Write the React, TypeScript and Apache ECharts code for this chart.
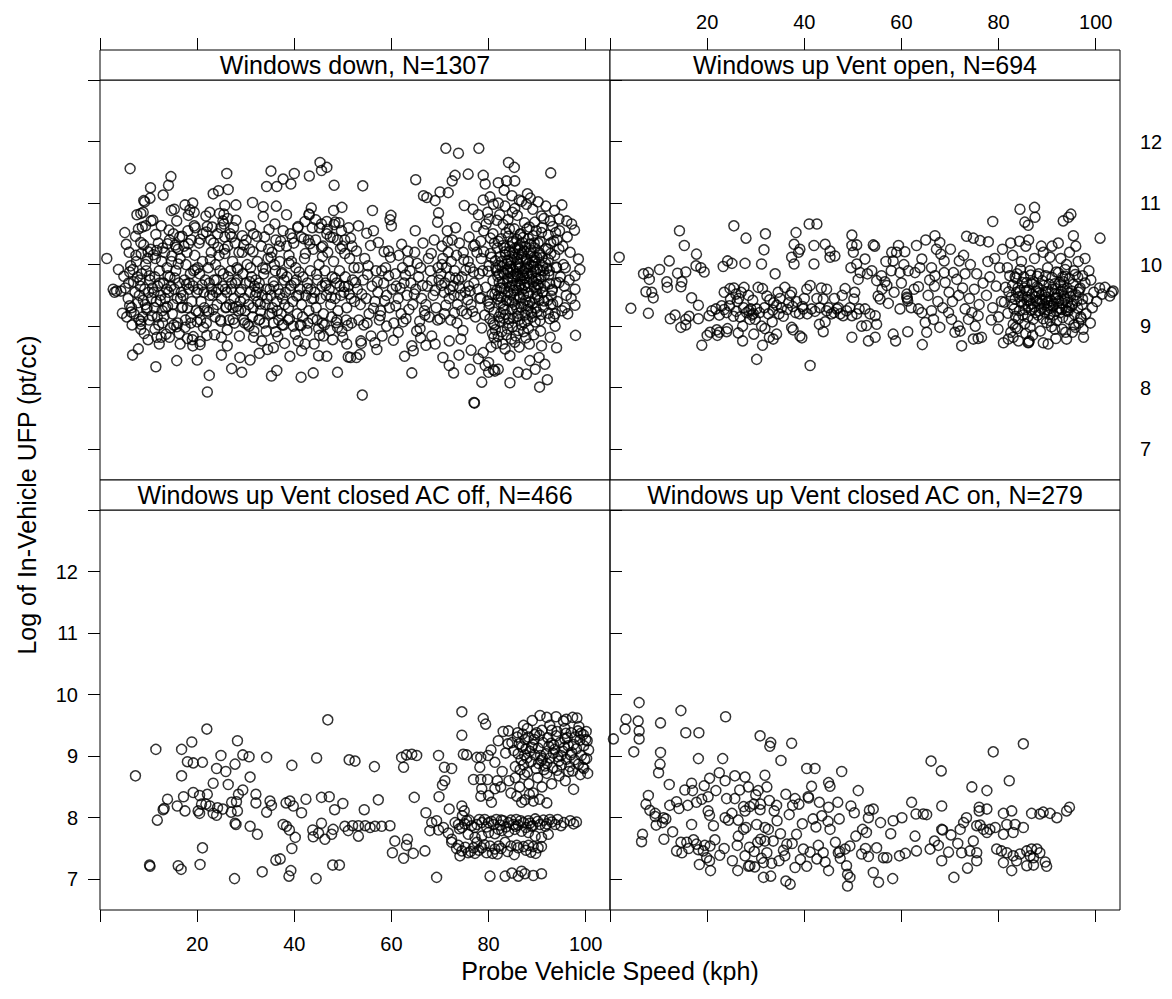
import { useEffect, useRef } from "react";
import * as echarts from "echarts";

// Axis scales shared by all four panels
const speedRange = [0, 105];
const ufpRange = [6.5, 13];
const speedTicks = [0, 20, 40, 60, 80, 100];
const speedLabels = [20, 40, 60, 80, 100];
const ufpTicks = [7, 8, 9, 10, 11, 12, 13];
const ufpLabels = [7, 8, 9, 10, 11, 12];

const panelTitles = [
  "Windows down, N=1307",
  "Windows up Vent open, N=694",
  "Windows up Vent closed AC off, N=466",
  "Windows up Vent closed AC on, N=279",
];

// [probe vehicle speed (kph), log in-vehicle UFP (pt/cc)]
const windowsDown: number[][] = [
  [1.4,10.1],[2.7,9.6],[3.4,9.57],[4.3,9.57],[3.0,9.55],[6.2,11.56],[14.6,11.43],[10.4,11.25],[14.1,11.29],[13.0,11.13],[9.0,11.04],[9.2,11.02],[10.3,11.08],[8.4,10.83],[8.9,10.85],[10.5,10.71],[14.7,10.88],[15.3,10.9],[17.5,10.97],[19.1,11.0],[18.2,10.8],[19.4,10.85],
  [26.1,11.48],[23.3,11.15],[24.4,11.2],[26.4,11.22],[22.6,10.85],[25.7,10.96],[25.5,10.82],[28.0,10.97],[25.3,10.71],[26.3,10.75],[31.4,11.01],[33.6,10.94],
  [35.2,11.52],[34.3,11.27],[36.4,11.27],[37.7,11.39],[39.3,11.31],[40.0,11.48],[43.1,11.44],[45.3,11.66],[45.6,11.53],[46.7,11.58],[48.2,11.29],[49.8,10.93],[43.0,10.82],[43.1,10.81],[45.6,10.66],[46.7,10.7],[48.4,10.69],
  [8.4,10.36],[8.4,9.03],[8.4,8.95],[6.7,8.53],[7.9,8.63],[11.5,8.34],[11.7,8.82],[12.2,8.71],[14.3,8.82],[15.8,8.44],[15.8,8.99],[16.5,8.71],[18.0,8.8],[19.2,8.83],[20.6,8.75],[19.1,8.68],[20.6,8.7],[20.0,8.45],[22.1,7.93],[22.5,8.2],[25.0,8.53],[26.2,8.68],[27.1,8.31],[29.2,8.25],[28.8,8.49],[30.9,8.45],[31.6,8.82],[32.8,8.56],[34.5,8.62],[35.3,8.19],[36.4,8.28],[35.7,8.65],[39.1,8.51],[41.4,8.17],[43.9,8.24],[40.8,8.76],[42.2,8.71],[41.5,8.6],[45.0,8.52],[46.7,8.51],[48.9,8.25],[48.9,8.98],[50.0,8.82],[50.8,8.71],[51.1,8.5],[51.6,8.49],[45.2,8.85],[46.0,8.84],[41.2,9.02],[37.5,9.02],[36.2,8.91],
  [5.2,9.62],[5.8,9.45],[6.1,9.88],[6.5,9.3],[6.9,9.72],[7.2,9.55],[7.5,10.05],[7.8,9.38],[5.5,9.15],[6.3,9.98],[7.0,9.2],[7.7,9.8],[6.0,10.2],[7.4,10.15],[5.9,9.7],
  [8.1,9.5],[8.3,9.65],[8.6,9.85],[8.9,9.42],[9.2,9.6],[9.4,10.0],[9.7,9.3],[10.0,9.55],[10.3,9.75],[10.6,9.45],[8.5,10.18],[9.0,10.32],[9.8,10.1],[10.4,10.25],[8.8,9.15],[10.1,9.1],[9.5,9.9],[10.8,9.62],[8.2,9.75],[9.3,9.35],
  [11.1,9.55],[11.3,9.8],[11.6,9.4],[11.9,9.65],[12.2,9.9],[12.5,9.5],[12.8,9.25],[13.1,9.7],[13.4,9.45],[13.7,9.6],[11.4,10.1],[12.0,10.35],[12.7,10.05],[13.3,10.2],[13.8,9.95],[11.8,9.15],[12.9,9.05],[13.5,9.3],[12.3,9.7],[11.2,9.3],
  [14.1,9.55],[14.4,9.8],[14.7,10.05],[15.0,9.35],[15.3,9.6],[15.6,9.9],[15.9,9.45],[16.2,9.7],[16.5,10.1],[16.8,9.3],[14.3,10.4],[15.1,10.5],[15.7,10.28],[16.4,10.45],[14.9,9.2],[16.0,9.05],[16.7,9.55],[14.6,9.65],[15.4,9.78],[16.1,10.25],
  [17.1,9.5],[17.4,9.75],[17.7,10.0],[18.0,9.3],[18.3,9.6],[18.6,9.85],[18.9,9.4],[19.2,9.65],[19.5,10.15],[19.8,9.25],[17.3,10.3],[18.1,10.55],[18.8,10.4],[19.6,10.6],[17.6,9.1],[18.7,9.05],[19.3,9.9],[17.9,10.2],[19.9,9.55],[18.4,9.7],
  [20.2,9.6],[20.5,9.85],[20.8,9.4],[21.1,10.05],[21.4,9.55],[21.7,9.75],[22.0,9.25],[22.3,9.95],[22.6,9.5],[22.9,10.2],[20.4,10.35],[21.2,10.5],[22.1,10.62],[22.8,10.4],[20.7,9.1],[21.9,9.05],[22.5,9.7],[21.5,9.3],[20.1,9.95],[23.0,9.6],
  [23.2,9.5],[23.5,9.75],[23.8,10.0],[24.1,9.35],[24.4,9.6],[24.7,9.9],[25.0,9.45],[25.3,9.65],[25.6,10.25],[25.9,9.3],[23.4,10.35],[24.2,10.5],[24.9,10.6],[25.7,10.45],[23.7,9.15],[24.8,9.1],[25.4,9.85],[24.5,10.15],[23.9,9.55],[25.8,9.6],
  [26.1,9.55],[26.4,9.8],[26.7,9.35],[27.0,9.6],[27.3,10.05],[27.6,9.45],[27.9,9.7],[28.2,9.95],[28.5,9.25],[28.8,9.55],[26.3,10.3],[27.1,10.45],[27.8,10.35],[28.6,10.2],[26.6,9.1],[27.7,9.05],[28.3,9.75],[26.9,9.9],[28.9,9.4],[27.4,9.3],
  [29.1,9.6],[29.4,9.85],[29.7,9.45],[30.0,9.7],[30.3,10.0],[30.6,9.35],[30.9,9.55],[31.2,9.8],[31.5,9.3],[31.8,9.65],[29.3,10.2],[30.1,10.4],[30.8,10.25],[31.6,10.5],[29.6,9.1],[30.7,9.0],[31.4,9.15],[29.9,9.25],[31.0,9.95],[32.0,9.5],
  [32.2,9.55],[32.5,9.4],[32.8,9.7],[33.1,9.25],[33.4,9.5],[33.7,9.85],[34.0,9.35],[34.3,9.6],[34.6,10.1],[34.9,9.2],[32.4,10.05],[33.2,10.3],[33.9,10.45],[34.7,10.25],[32.7,9.1],[33.8,9.05],[34.4,9.45],[33.5,9.95],[32.1,9.75],[35.0,9.6],
  [35.2,9.5],[35.5,9.3],[35.8,9.65],[36.1,9.9],[36.4,9.4],[36.7,9.6],[37.0,10.05],[37.3,9.2],[37.6,9.45],[37.9,9.75],[35.4,10.2],[36.2,10.4],[36.9,10.3],[37.7,10.55],[35.7,9.05],[36.8,9.1],[37.4,9.85],[35.9,10.0],[38.0,9.35],[36.5,9.25],
  [38.2,9.55],[38.5,9.8],[38.8,9.3],[39.1,9.6],[39.4,10.05],[39.7,9.4],[40.0,9.7],[40.3,9.95],[40.6,9.2],[40.9,9.5],[38.4,10.3],[39.2,10.5],[39.9,10.35],[40.7,10.6],[38.7,9.1],[39.8,9.0],[40.4,9.75],[38.9,10.15],
  [41.2,9.6],[41.5,9.35],[41.8,9.8],[42.1,10.1],[42.4,9.5],[42.7,9.7],[43.0,9.25],[43.3,9.9],[43.6,9.45],[43.9,10.25],[41.4,10.45],[42.2,10.7],[42.9,10.4],[43.7,10.6],[41.7,9.15],[42.8,9.05],[43.4,9.6],
  [44.2,9.55],[44.5,9.3],[44.8,9.75],[45.1,10.0],[45.4,9.45],[45.7,9.65],[46.0,9.2],[46.3,9.9],[46.6,9.5],[46.9,10.2],[44.4,10.4],[45.2,10.6],[45.9,10.3],[46.7,10.5],[44.7,9.1],[45.8,9.05],[46.4,9.7],
  [47.2,9.6],[47.5,9.35],[47.8,9.8],[48.1,10.05],[48.4,9.45],[48.7,9.7],[49.0,9.25],[49.3,9.9],[49.6,9.5],[49.9,10.3],[47.4,10.45],[48.2,10.65],[48.9,10.4],[49.7,10.55],[47.7,9.15],[48.8,9.1],[49.4,9.65],
  [50.2,9.55],[50.5,9.8],[50.8,9.3],[51.1,9.65],[51.4,10.1],[51.7,9.45],[52.0,9.75],[52.3,9.95],[50.4,10.4],[51.2,10.6],[51.9,10.3],[50.7,9.1],[51.8,9.05],[52.4,9.4],
  [3.8,9.92],[4.6,9.21],[5.4,10.33],[6.6,9.02],[7.3,10.46],[8.0,9.11],[8.7,10.61],[9.1,8.88],[9.9,10.21],[10.7,9.17],[11.5,10.49],[12.1,9.02],[12.6,10.63],[13.2,9.16],[13.9,10.34],[14.5,8.97],[5.1,10.52],[6.4,9.23],[7.9,10.58],[9.6,9.27],[10.9,10.72],[12.4,9.42],[14.2,10.56],[4.9,9.81],[6.8,9.92],[8.4,9.08],[10.2,9.82],[11.7,10.23],[13.6,8.87],[14.8,10.14],[7.6,10.81],[9.4,10.63],[11.0,10.16],[12.9,10.27],[14.0,9.82],[6.1,9.33],[9.9,8.78],[12.6,8.82],[13.9,9.32],[11.3,8.95],
  [15.2,9.02],[15.8,10.71],[16.3,8.88],[16.9,10.46],[17.5,8.98],[18.2,10.34],[18.7,9.14],[19.4,10.63],[20.0,9.07],[20.6,10.41],[21.3,8.98],[21.8,10.79],[22.4,9.23],[23.1,10.61],[23.6,8.86],[24.3,10.28],[24.9,9.08],[25.5,10.66],[26.2,8.94],[26.8,10.5],[27.4,9.11],[28.0,10.72],[28.7,8.84],[29.3,10.47],[29.8,9.05],[15.5,10.32],[17.0,9.31],[18.5,10.89],[20.3,9.22],[21.9,10.53],[23.3,9.27],[24.6,10.83],[26.0,9.31],[27.5,10.6],[29.0,9.27],[16.1,10.01],[17.8,9.68],[19.6,9.92],[21.0,9.67],[22.7,10.08],[24.0,9.75],[25.7,10.18],[27.1,9.7],[28.4,9.92],[29.6,10.32],[16.6,9.45],[19.0,8.78],[22.0,8.85],[25.0,8.82],[28.1,9.32],
  [30.4,9.03],[31.0,10.63],[31.7,8.92],[32.3,10.46],[32.9,9.11],[33.6,10.78],[34.2,8.92],[34.8,10.57],[35.4,9.21],[36.0,10.66],[36.6,8.83],[37.2,10.38],[37.8,9.02],[38.4,10.81],[39.0,9.12],[39.6,10.43],[40.2,8.87],[40.8,10.62],[41.4,9.01],[42.0,10.42],[42.6,8.93],[43.2,10.34],[43.8,9.12],[44.4,10.73],[45.0,8.96],[45.6,10.28],[46.2,9.02],[46.8,10.57],[47.4,8.93],[48.0,10.44],[48.6,9.06],[49.2,10.68],[49.8,8.92],[50.4,10.18],[51.0,9.01],[51.6,10.43],[30.8,9.72],[32.6,9.62],[34.1,9.93],[35.7,9.72],[37.5,9.87],[39.3,9.66],[41.0,9.88],[42.7,9.61],[44.6,9.84],[46.5,9.66],[48.4,9.78],[50.3,9.64],[31.5,10.21],[33.0,9.36],[35.2,10.12],[37.0,9.52],[38.9,10.02],[40.5,9.49],[42.3,10.18],[44.0,9.45],[45.8,10.13],[47.6,9.47],[49.5,10.26],[51.3,9.52],[33.3,8.76],[38.0,8.72],[44.1,8.71],[47.9,8.78],[36.3,10.95],[43.5,10.92],[48.1,10.88],
  [71.2,11.89],[73.8,11.81],[78.0,11.89],[84.1,11.66],[85.3,11.58],[92.8,11.49],[65.0,11.38],[73.1,11.45],[72.5,11.36],[75.8,11.47],[78.9,11.45],[79.3,11.31],[82.0,11.33],[83.7,11.36],[85.4,11.36],[54.1,11.28],[66.6,11.12],[67.3,11.09],[69.0,11.04],[70.0,11.18],[71.7,11.17],[56.1,10.88],[59.9,10.8],[59.7,10.73],[60.0,10.63],[53.2,10.63],[54.9,10.51],[56.3,10.55],[64.9,10.55],[69.7,10.84],[69.5,10.69],[95.1,10.97],[94.5,10.74],[96.1,10.71],[97.1,10.66],[97.7,10.56],[75.0,10.96],[57.3,10.36],[58.5,10.21],[59.4,10.22],[62.1,10.33],[52.8,10.22],[53.2,9.95],[55.2,9.98],[56.8,9.9],[58.0,9.9],
  [98.5,10.09],[98.8,9.92],[97.8,9.82],[97.8,9.6],[97.8,9.34],[95.7,9.3],[97.9,8.85],[93.7,9.2],[93.7,9.0],[54.0,7.88],[64.2,8.24],[71.9,8.36],[72.8,8.24],[73.9,8.53],[76.2,8.3],[78.6,8.09],[84.4,8.08],[90.5,8.01],[92.1,8.13],[77.0,7.76],[77.1,7.75],[80.0,8.25],[81.3,8.27],[82.0,8.3],[89.6,8.3],[91.6,8.38],[86.1,8.25],[87.8,8.22],[77.9,8.47],[80.0,8.41],[88.5,8.44],[90.4,8.49],[92.7,8.82],[94.0,8.65],[90.9,8.68],
  [61.4,8.9],[65.2,8.92],[65.9,8.96],[68.3,8.84],[69.0,8.71],[67.1,8.69],[64.2,8.68],[64.5,8.6],[71.9,8.76],[74.3,8.79],[76.4,8.61],[56.6,8.73],[58.1,8.84],[59.0,9.0],[55.8,8.84],[53.7,8.76],[53.5,8.54],[52.8,8.49],[78.9,8.57],[79.3,8.36],[81.0,8.29],
  [53.8,8.72],[57.0,8.62],[62.7,8.51],[66.0,8.81],[70.6,8.49],[74.7,8.93],[60.4,8.77],
  [53.0,9.6],[53.6,9.35],[54.2,9.75],[54.8,9.45],[55.4,9.2],[56.0,9.65],[56.6,9.4],[57.2,9.55],[57.8,9.25],[58.4,9.7],[59.0,9.5],[59.6,9.3],[60.2,9.6],[60.8,9.85],[61.4,9.45],[62.0,9.2],[62.6,9.7],[63.2,9.5],[63.8,9.9],[64.4,9.35],[65.0,9.6],[65.6,9.8],[66.2,9.45],[66.8,9.25],[67.4,9.65],[68.0,9.9],[68.6,9.5],[69.2,9.3],[69.8,9.75],[70.4,10.0],[53.3,9.1],[55.0,9.05],[57.5,9.1],[60.5,9.05],[63.0,9.12],[65.8,9.08],[67.8,9.15],[69.5,9.1],[54.5,10.1],[61.5,10.15],[63.5,10.05],[64.8,10.2],[66.5,10.35],[67.6,10.1],[68.8,10.4],[58.8,9.95],[61.0,9.65],[62.3,9.95],[64.0,9.7],[66.0,9.95],
  [52.6,9.71],[53.9,9.52],[55.1,9.84],[56.3,9.29],[57.1,9.72],[58.6,9.41],[59.4,9.82],[60.9,9.33],[61.8,9.62],[62.9,9.83],[63.6,9.27],[64.7,9.52],[65.3,10.02],[66.4,9.66],[67.1,9.35],[68.3,9.74],[69.0,9.58],[69.6,9.95],[70.3,9.66],[71.2,9.34],[72.0,9.59],[73.2,9.78],[74.1,9.62],[75.3,9.91],[76.2,9.57],[76.9,9.88],[75.7,9.43],[74.9,10.08],[71.6,10.38],[68.2,10.18],[63.3,10.22],[59.8,10.12],[55.7,10.31],[57.7,9.17],[62.4,9.07],[66.9,9.18],[70.0,9.12],[73.0,9.22],[76.7,9.24],[54.3,9.02],
  [70.2,9.85],[70.6,10.1],[71.0,9.7],[71.3,9.95],[71.7,10.2],[72.0,9.8],[72.3,10.05],[72.7,9.65],[73.0,9.9],[73.4,10.15],[73.8,9.75],[70.8,9.55],[71.9,9.45],[72.9,9.5],[73.6,9.35],[70.4,10.3],[72.5,10.4],[71.5,10.55],[73.2,10.6],[74.0,10.35],[70.9,9.2],[72.2,9.1],[73.5,9.05],[74.5,9.25],
  [81.3,9.52],[84.7,10.08],[87.9,9.71],[90.2,10.35],[83.1,9.33],[86.4,9.94],[89.6,9.46],[92.4,9.83],[80.6,10.12],[85.8,10.41],[88.1,9.27],[91.7,10.02],[82.9,9.88],[86.9,9.59],[90.8,9.19],[79.4,9.63],[84.2,9.41],[87.3,10.22],[93.1,9.58],[81.8,10.27],
  [85.1,9.13],[88.7,9.98],[83.6,10.52],[90.1,9.68],[86.2,10.17],[80.2,9.36],[92.8,10.18],[84.9,9.79],[89.2,10.47],[82.2,9.71],[87.6,9.42],[91.3,9.31],[85.6,9.66],[79.9,9.89],[88.4,10.61],[83.8,10.01],[90.6,9.91],[86.7,9.31],[81.5,9.95],[93.9,9.96],
  [84.4,10.29],[87.1,9.83],[89.9,10.12],[82.6,9.47],[85.3,10.58],[91.1,9.55],[88.9,9.21],[80.9,9.74],[86.5,10.49],[83.3,9.61],[92.2,9.42],[84.6,9.52],[87.8,10.06],[90.4,9.42],[82.0,10.38],[85.9,9.84],[89.4,9.64],[81.1,9.23],[94.5,9.71],[88.2,9.54],
  [83.5,9.19],[86.0,10.04],[91.8,10.26],[84.0,9.89],[87.4,9.67],[89.7,9.88],[80.4,10.43],[85.4,9.35],[92.6,9.69],[82.4,10.13],[88.6,10.33],[86.3,9.48],[90.9,10.52],[83.9,9.72],[81.7,9.58],[87.0,10.36],[89.1,9.37],[85.0,10.19],[93.4,10.38],[84.8,9.27],
  [79.0,10.21],[82.8,9.97],[86.6,9.77],[90.3,9.77],[88.0,9.09],[84.3,9.64],[91.5,9.83],[80.7,9.52],[87.7,9.93],[83.0,10.31],[85.7,9.96],[89.5,10.27],[82.1,9.15],[92.0,9.94],[86.1,9.21],[90.0,9.23],[84.1,10.46],[88.3,9.81],[81.4,10.06],[87.2,9.51],
  [85.5,10.27],[83.2,9.85],[89.8,9.59],[91.0,10.11],[86.8,10.12],[82.5,9.38],[88.8,10.14],[80.1,9.98],[84.5,9.97],[90.7,9.61],[87.5,9.18],[85.2,9.58],[92.9,9.49],[83.7,9.42],[89.3,9.97],[81.9,9.81],[86.4,10.31],[88.5,9.39],[84.9,10.36],[91.6,9.65],
  [80.4,10.18],[83.9,10.07],[86.3,9.66],[89.0,10.04],[91.3,9.9],[82.7,9.62],[85.0,9.92],[87.6,10.29],[90.5,10.19],[81.6,9.91],[84.0,9.55],[86.9,9.87],[88.9,9.76],[92.3,10.08],[83.4,10.21],[85.9,10.09],[88.2,10.02],[90.0,9.52],[82.3,9.99],[87.1,10.44],
  [82.2,9.84],[83.5,10.16],[84.8,9.66],[86.1,10.01],[87.4,9.78],[88.7,10.23],[90.0,9.93],[83.0,9.7],[84.3,10.21],[85.6,9.85],[86.9,10.18],[88.2,9.64],[89.5,10.06],[90.8,9.8],[82.7,10.05],[84.0,9.78],[85.3,10.12],[86.6,9.68],[87.9,9.96],[89.2,9.72],
  [90.5,10.16],[83.8,9.92],[85.1,9.74],[86.4,10.24],[87.7,10.09],[89.0,9.86],[90.3,9.67],[82.4,9.62],[84.6,10.03],[85.9,9.58],[87.2,9.89],[88.5,10.19],[89.8,9.78],[91.1,9.98],[83.3,10.27],[86.0,9.81],[88.0,9.86],[84.5,9.86],[87.5,9.62],[89.4,10.12],
  [78.4,9.46],[80.1,9.31],[81.9,9.44],[83.2,9.27],[84.8,9.39],[86.5,9.46],[88.1,9.33],[89.7,9.29],[91.4,9.41],[93.2,9.36],[79.2,9.18],[80.9,9.05],[82.5,9.21],[84.2,9.12],[85.8,9.29],[87.4,9.06],[89.0,9.15],[90.6,9.09],[92.3,9.21],[78.6,8.97],[81.4,8.94],[83.1,9.13],[84.9,8.99],[86.4,9.11],[88.2,8.96],[79.8,9.41],[82.0,9.49],[85.2,9.47],[87.0,9.37],[90.1,9.48],[92.6,9.12],[81.1,8.82],[83.7,8.86],[85.4,8.74],[87.7,8.81],[89.3,8.86],[80.5,8.66],[82.9,8.71],[86.1,8.93],[88.7,9.24],
  [80.3,9.12],[82.7,8.91],[84.1,9.05],[85.6,8.84],[81.6,8.72],[83.4,8.63],[86.8,9.02],[88.4,8.71],[80.8,8.88],[84.7,8.79],[82.3,9.08],[87.2,8.91],[85.9,9.16],[83.9,8.96],[81.2,9.02],[86.3,8.66],[89.6,9.07],[84.4,8.52],[82.0,8.83],[90.7,8.92],
  [79.5,10.66],[82.3,10.81],[85.4,10.91],[87.9,10.58],[90.9,10.79],[84.0,10.73],[81.0,10.98],[86.8,11.03],[89.5,10.69],[92.7,10.71],[83.2,11.21],[88.6,11.08],[80.1,10.74],[93.8,10.52],[77.9,10.81],
  [76.0,10.45],[77.5,10.62],[78.4,10.38],[79.8,10.85],[80.9,10.5],[81.7,10.72],[82.6,10.42],[83.4,10.95],[84.3,10.58],[85.0,10.38],[85.9,10.8],[86.6,10.5],[87.4,10.68],[88.2,10.42],[89.1,10.9],[89.8,10.55],[90.6,10.38],[91.4,10.75],[92.3,10.48],[93.2,10.62],[94.1,10.4],[95.3,10.3],[96.2,10.45],[76.8,10.9],[78.9,11.05],[80.3,11.1],[82.0,11.0],[84.8,11.12],[86.3,11.05],[88.0,11.15],[90.2,11.02],[91.8,10.95],[93.6,10.88],[77.2,10.32],[79.0,10.55],[81.2,10.35],[83.0,10.65],[84.9,10.85],[86.0,10.28],[87.8,10.98],[89.4,10.35],[91.0,10.6],[92.8,10.35],[94.6,10.55],
  [74.5,9.8],[75.2,9.55],[75.8,10.05],[76.4,9.35],[77.0,9.7],[77.6,10.2],[78.2,9.45],[78.8,9.9],[74.8,10.2],[75.5,9.2],[76.2,9.95],[76.9,10.3],[77.8,9.6],[78.5,10.1],[75.9,9.65],[77.3,9.15],[78.1,9.85],[74.2,9.5],
  [92.5,9.9],[93.1,9.6],[93.6,10.15],[94.2,9.4],[94.8,9.8],[95.4,10.0],[96.0,9.5],[96.6,9.75],[92.8,9.35],[93.9,9.7],[94.5,10.25],[95.1,9.25],[95.8,9.95],[96.8,10.2],[92.2,10.25],[93.4,9.15],[94.0,9.95],[95.6,9.65],[97.0,9.45],[96.3,9.2],
];

const ventOpen: number[][] = [
  [1.9,10.12],[4.3,9.29],[7.9,9.21],[6.9,9.85],[7.9,9.87],[8.1,9.76],[7.4,9.56],[8.6,9.55],[8.9,9.46],[10.2,9.92],[12.2,10.06],[11.7,9.72],[11.8,9.63],[14.8,9.72],[14.6,9.64],[13.9,9.86],[15.6,9.88],[14.3,10.55],[15.3,10.31],[17.8,10.17],[17.7,9.98],[18.7,9.95],[19.4,9.88],[16.8,9.46],[18.2,9.34],[12.4,9.12],[13.4,9.18],[14.6,8.98],[15.6,9.02],[16.3,9.16],[15.6,9.11],[18.2,9.12],[18.9,8.69],[20.0,8.85],[20.6,8.9],[22.1,8.85],[22.5,8.9],[24.0,8.91],[24.2,8.96],[22.0,8.94],[20.4,9.17],[21.8,9.28],[23.0,9.33],[24.0,9.22],[25.4,9.16],[24.6,9.33],[24.8,9.44],[24.7,9.61],[23.3,9.97],[24.2,10.06],[25.1,10.02],[25.5,10.63],[28.0,10.43],[27.8,10.02],[27.6,9.63],[26.4,8.89],[27.3,8.76],[27.3,9.0],
  [28.1,9.22],[29.0,9.28],[29.5,9.2],[28.8,9.11],[30.2,9.28],[29.9,9.11],[29.2,9.18],[28.6,9.25],[29.6,8.87],[30.2,8.46],[31.4,8.69],[31.2,10.01],[31.7,10.24],[32.0,10.5],[31.2,9.0],[31.9,8.96],[33.4,9.07],[32.8,8.82],[34.3,8.87],[33.6,8.79],[30.5,9.63],[31.4,9.61],[32.3,9.49],[32.9,9.43],[34.0,9.85],[34.3,9.34],[35.3,9.3],[35.7,9.16],[37.1,9.5],[36.0,9.63],[37.4,9.55],[38.4,9.4],[37.6,9.32],[39.0,9.2],[37.4,8.98],[37.7,8.94],[39.1,8.84],[39.5,8.81],[37.4,10.12],[37.9,10.33],[38.3,10.52],[39.1,10.25],[37.9,10.01],[38.8,10.2],[41.0,10.66],[42.6,10.66],[42.0,10.31],[42.0,10.01],[41.2,8.36],[41.2,9.66],[40.5,9.6],[39.8,9.28],[41.5,9.28],[43.9,9.44],[44.6,9.6],[44.6,9.25],[44.3,9.07],[43.9,8.91],[43.1,9.03],[45.6,9.2],[46.7,9.28],[47.4,9.2],[48.0,9.17],[44.3,10.33],[45.3,10.22],[46.3,10.14],[45.3,10.12],[48.4,9.61],[49.8,10.48],[50.8,10.32],[49.8,10.31],[50.1,10.2],[49.6,9.95],[50.8,10.01],[51.5,9.87],[51.1,9.76],[49.8,8.82],[49.8,9.17],[50.8,9.2],[51.8,9.0],[50.2,9.44],[50.4,9.55],
  [21.0,9.25],[22.5,9.18],[23.5,9.27],[26.0,9.24],[26.8,9.15],[27.5,9.3],[30.8,9.22],[31.8,9.3],[32.6,9.2],[33.5,9.26],[34.8,9.2],[36.5,9.27],[38.2,9.22],[39.6,9.32],[40.6,9.2],[42.2,9.24],[43.2,9.3],[45.0,9.3],[46.1,9.22],[47.0,9.3],[48.7,9.25],[49.4,9.3],[51.3,9.28],[36.8,9.38],[35.0,9.45],[33.7,9.38],[26.5,9.45],[25.9,9.52],[34.6,9.55],[42.6,9.45],[43.5,9.62],[46.2,9.45],[47.8,9.5],[40.0,9.45],[23.5,9.55],[25.5,9.62],[26.2,9.4],[27.0,9.55],[28.5,9.5],[29.4,9.42],
  [54.2,10.32],[54.5,10.3],[52.5,10.09],[53.0,9.85],[53.9,9.9],[54.9,9.74],[55.9,9.82],[56.6,9.72],[57.0,9.66],[58.0,10.2],[59.0,10.2],[59.4,10.31],[60.7,10.21],[58.3,10.06],[57.9,9.9],[59.7,9.87],[61.4,9.9],[63.1,10.31],[64.2,10.09],[65.0,10.4],[66.9,10.47],[67.9,10.36],[68.1,10.17],[68.8,10.06],[66.2,9.95],[63.5,9.64],[62.8,9.87],[55.2,9.49],[55.6,9.44],[57.3,9.37],[59.7,9.28],[61.1,9.47],[61.3,9.41],[61.1,9.52],[61.2,9.45],[52.5,9.28],[53.5,9.2],[54.6,9.17],[54.9,9.03],[52.8,9.01],[53.2,8.76],[54.6,8.82],[58.3,8.87],[58.8,8.76],[61.3,8.91],[63.5,9.28],[64.2,9.22],[66.2,9.25],[64.9,9.06],[66.6,9.11],[67.9,8.98],[65.2,8.9],[64.3,8.7],[66.9,9.82],[68.8,9.87],[70.7,9.87],[69.0,9.71],[71.4,9.76],[73.1,9.85],[71.9,10.06],[73.4,10.46],[74.8,10.43],[76.2,10.39],[77.9,10.37],[78.8,10.7],[84.4,10.9],[87.4,10.93],[85.4,10.69],[86.1,10.64],[87.5,10.77],[93.3,10.71],[94.4,10.77],[94.9,10.82],[95.4,10.47],[100.9,10.43],[101.9,9.63],[103.3,9.55],[102.9,9.49],[103.6,9.57],
  [69.7,9.22],[70.3,9.11],[71.7,9.0],[72.1,8.92],[71.0,8.9],[72.4,8.68],[74.8,8.79],[75.8,8.8],[76.5,8.82],[73.1,9.28],[74.5,9.22],[73.8,9.11],[75.2,9.0],[75.8,9.17],[81.0,8.73],[82.0,8.79],[83.0,8.82],[84.1,8.76],[86.1,8.73],[86.3,8.76],[86.2,8.74],[89.2,8.73],[90.2,8.71],[91.8,8.8],[94.0,8.79],[95.2,8.9],[97.5,8.82],
  [56.0,9.6],[58.5,9.55],[60.0,9.7],[62.0,9.3],[62.6,9.6],[65.5,9.5],[66.8,9.65],[67.5,9.4],[68.5,9.3],[69.8,9.55],[70.5,9.4],[71.8,9.5],[72.6,9.62],[74.0,9.45],[75.0,9.6],[76.0,9.35],[76.8,9.7],[75.5,9.85],[74.2,10.0],[72.8,10.15],[70.1,10.25],[67.2,10.25],[60.5,10.0],[56.8,10.05],[63.8,9.95],[65.8,9.75],
  [81.4,9.63],[83.2,9.28],[84.9,9.71],[86.3,9.42],[88.1,9.18],[89.7,9.56],[91.2,9.33],[92.8,9.67],[94.3,9.24],[95.9,9.51],[82.6,9.47],[84.1,9.12],[85.7,9.58],[87.4,9.31],[89.0,9.74],[90.6,9.09],[92.1,9.45],[93.7,9.81],[95.2,9.36],[96.8,9.62],
  [81.9,9.21],[83.7,9.55],[85.2,9.36],[86.9,9.69],[88.5,9.43],[90.1,9.27],[91.7,9.61],[93.2,9.14],[94.8,9.48],[82.3,9.82],[84.5,9.92],[86.0,9.15],[87.8,9.57],[89.4,9.35],[91.0,9.79],[92.5,9.29],[94.1,9.62],[95.6,9.19],[97.3,9.44],[83.0,9.03],
  [84.7,9.39],[86.6,9.83],[88.2,9.62],[89.9,9.06],[91.5,9.52],[93.0,9.38],[94.6,9.77],[96.3,9.29],[81.2,9.39],[82.9,9.66],[85.9,9.47],[87.1,9.11],[88.8,9.29],[90.4,9.68],[92.3,9.87],[93.9,9.31],[95.4,9.68],[97.0,9.12],[83.6,9.78],[85.4,9.04],
  [86.8,9.26],[88.0,9.81],[89.6,9.44],[91.3,9.18],[92.9,9.56],[94.5,9.11],[96.1,9.41],[82.1,9.56],[84.3,9.25],[85.8,9.71],[87.5,9.48],[89.2,9.12],[90.8,9.41],[92.6,9.71],[94.2,9.39],[95.8,9.84],[83.4,9.44],[86.2,9.58],[88.4,9.37],[90.2,9.56],
  [91.9,9.24],[93.5,9.49],[95.0,9.57],[84.0,9.62],[87.2,9.72],[89.5,9.23],[92.0,9.09],[93.4,9.72],[96.5,9.55],[85.0,9.18],[88.9,9.52],[91.6,9.69],[94.0,9.25],[83.9,8.96],[86.5,8.98],[88.6,8.92],[90.9,8.99],[93.1,8.95],[95.5,9.02],[85.6,8.88],
  [82.8,9.35],[85.3,9.62],[87.9,9.41],[90.5,9.19],[93.3,9.6],[86.1,9.33],[89.3,9.66],[91.8,9.46],[94.4,9.54],[84.2,9.48],[87.6,9.22],[90.0,9.38],[92.7,9.22],[95.1,9.33],[83.5,9.16],
  [84.4,9.58],[86.7,9.36],[88.3,9.54],[90.7,9.29],[92.2,9.52],[85.5,9.27],[87.9,9.64],[89.8,9.47],[91.4,9.36],[93.6,9.44],[84.9,9.49],[86.9,9.52],[89.0,9.42],[91.0,9.6],[93.0,9.27],[85.8,9.43],[88.4,9.25],[90.3,9.33],[92.4,9.41],[94.6,9.3],
  [77.5,9.5],[78.2,9.8],[78.8,9.3],[79.5,9.65],[80.2,9.95],[80.6,9.4],[79.2,10.1],[78.5,9.1],[80.0,9.15],[77.8,10.05],[79.9,8.95],[80.8,10.25],
  [81.8,9.95],[82.9,10.15],[83.8,9.85],[84.7,10.05],[85.6,10.3],[86.5,9.9],[87.4,10.1],[88.3,9.85],[89.2,10.2],[90.1,9.95],[91.0,10.3],[91.9,9.88],[92.8,10.1],[93.7,9.92],[94.6,10.2],[95.5,9.9],[96.4,10.05],[97.3,9.82],[82.5,10.35],[84.3,10.38],[86.2,10.4],[88.8,10.3],[90.6,10.12],[92.3,10.35],[94.0,10.0],[95.9,10.3],[97.8,10.1],[98.6,9.9],[83.4,9.8],[85.2,9.8],[89.7,9.82],[93.2,9.8],
  [96.6,9.6],[97.2,9.35],[97.8,9.7],[98.4,9.45],[99.0,9.75],[99.6,9.55],[100.2,9.4],[100.8,9.62],[96.9,9.15],[98.0,9.2],[99.3,9.3],[101.3,9.52],[96.3,9.8],[98.9,9.05],[97.4,8.95],
  [82.5,8.9],[83.5,8.98],[87.0,8.85],[91.6,8.95],[93.8,8.9],[95.8,8.98],[96.5,9.05],
];

const acOff: number[][] = [
  [7.3,8.68],[11.5,9.11],[16.8,9.11],[18.9,9.23],[22.0,9.44],[18.0,8.91],[19.2,8.89],[21.1,8.9],[16.8,8.68],[24.0,8.8],[25.9,8.75],[27.8,8.87],[24.9,9.01],[28.3,9.25],[29.4,9.02],[30.7,8.99],[34.3,8.98],[39.5,8.85],[44.6,8.97],[51.3,8.94],[46.9,9.59],[23.3,8.56],[26.4,8.54],[30.9,8.66],[28.5,8.38],[29.4,8.45],[32.1,8.38],
  [13.9,8.3],[13.2,8.15],[13.0,8.13],[11.8,7.96],[15.9,8.19],[17.2,8.34],[17.5,8.11],[19.2,8.41],[20.5,8.36],[20.9,8.22],[22.1,8.38],[20.2,8.11],[20.5,8.07],[21.8,8.22],[22.6,8.19],[23.3,8.07],[24.0,8.04],[24.2,8.16],[25.3,8.14],[27.0,8.09],[27.1,8.25],[28.3,8.11],[28.1,8.26],[27.8,7.91],[30.9,7.86],[32.4,7.73],[32.1,8.24],[34.3,8.09],[35.0,8.27],[35.3,8.2],[38.3,8.24],[39.1,8.27],[39.8,8.19],[41.5,8.08],[42.4,8.3],[45.6,8.33],[47.2,8.34],[50.0,8.23],[48.3,8.13],
  [37.7,7.89],[38.4,7.86],[39.0,7.8],[40.2,7.68],[39.5,7.5],[43.8,7.8],[43.9,7.69],[45.6,7.91],[45.0,7.75],[46.3,7.65],[47.7,7.73],[48.0,7.81],[50.4,7.86],[51.1,7.79],[52.0,7.87],[28.0,7.89],[21.1,7.51],[10.2,7.23],[10.3,7.21],[16.1,7.22],[16.7,7.16],[20.6,7.24],[27.7,7.01],[33.4,7.12],[36.2,7.31],[37.1,7.33],[39.3,7.14],[38.9,7.05],[44.5,7.01],[47.9,7.23],[49.3,7.23],
  [74.5,9.72],[74.5,9.34],[78.9,9.61],[79.4,9.52],[84.1,9.41],[87.2,9.5],[90.6,9.66],[92.0,9.63],[93.9,9.64],[95.4,9.57],[97.3,9.63],[62.1,8.98],[63.1,9.02],[64.2,9.03],[65.2,9.01],[62.5,8.82],[69.7,9.01],[70.9,8.82],[72.4,8.8],[56.5,8.83],[74.8,9.03],[75.5,9.02],[77.6,8.98],[78.4,8.98],[79.9,9.01],[78.2,8.82],[76.9,8.62],[78.4,8.62],[79.8,8.62],[78.6,8.47],[80.0,8.36],[78.4,8.35],[80.6,8.25],[81.3,8.47],[71.0,8.6],[70.5,8.53],[69.8,8.34],[71.9,8.14],[64.7,8.33],[57.3,8.29],[54.4,8.13],[67.1,8.08],[52.5,8.92],
  [53.2,7.87],[54.6,7.87],[55.6,7.84],[56.6,7.86],[58.0,7.86],[59.7,7.87],[53.2,7.7],[60.7,7.62],[63.3,7.65],[63.1,7.55],[60.2,7.43],[62.5,7.34],[64.5,7.42],[66.9,7.46],[69.3,7.03],[74.5,8.19],[75.0,8.11],[74.6,8.03],[68.3,7.92],[69.3,7.95],[67.9,7.79],[69.7,7.8],[70.7,7.84],[71.7,7.75],[72.4,7.65],
  [73.1,7.92],[73.8,7.89],[74.5,7.84],[75.5,7.95],[76.5,7.87],[77.6,7.89],[78.6,7.92],[80.0,7.92],[81.0,7.89],[82.0,7.81],[83.0,7.95],[84.1,7.92],[85.1,7.89],[86.1,7.88],[87.2,7.92],[88.2,7.95],[89.6,7.98],[90.6,7.89],[92.0,7.9],[93.0,7.93],[93.7,7.89],[94.9,7.87],[96.8,7.95],[98.1,7.93],[79.2,7.97],[82.6,7.96],[85.7,7.97],[88.8,7.86],[91.3,7.96],[94.2,7.97],
  [74.0,7.82],[75.1,7.9],[76.0,7.96],[77.1,7.84],[78.1,7.97],[79.6,7.85],[80.6,7.94],[81.6,7.97],[82.4,7.88],[83.6,7.85],[84.6,7.96],[85.6,7.86],[86.6,7.95],[87.7,7.84],[88.5,7.91],[89.1,7.87],[90.1,7.94],[91.7,7.86],[92.6,7.97],[95.5,7.92],[97.5,7.9],
  [72.4,7.6],[73.4,7.5],[74.5,7.46],[74.1,7.38],[75.8,7.43],[76.9,7.51],[77.6,7.6],[78.6,7.51],[79.6,7.43],[80.3,7.54],[81.3,7.49],[82.6,7.5],[83.4,7.6],[84.6,7.54],[85.3,7.4],[86.1,7.51],[87.2,7.53],[88.2,7.55],[89.2,7.53],[90.2,7.51],[90.9,7.53],[77.2,7.42],[81.8,7.41],[88.7,7.44],
  [73.8,7.55],[75.2,7.52],[76.3,7.45],[78.0,7.47],[79.1,7.56],[80.8,7.42],[82.1,7.54],[83.9,7.45],[85.8,7.55],[87.7,7.47],[89.7,7.42],
  [75.8,7.73],[77.2,7.68],[78.6,7.7],[80.0,7.76],[81.3,7.74],[82.7,7.79],[84.1,7.77],[85.4,7.81],[86.8,7.78],[88.2,7.76],[89.6,7.7],[90.9,7.68],[92.3,7.73],
  [80.3,7.05],[83.4,7.05],[84.8,7.1],[86.1,7.05],[86.8,7.13],[87.5,7.09],[89.2,7.06],[90.9,7.09],
  [84.8,9.22],[86.1,9.04],[87.5,9.27],[88.7,8.91],[90.2,9.13],[91.6,8.84],[92.9,9.21],[94.3,8.99],[95.7,9.28],[97.1,9.06],[98.5,8.87],[99.6,9.17],[85.5,8.83],[86.9,9.15],[88.2,9.31],[89.5,9.02],[90.9,8.93],[92.2,9.3],[93.6,9.11],[95.0,8.86],[96.4,9.17],[97.8,9.31],[99.1,9.01],[85.2,9.09],[86.5,8.78],[87.9,8.97],[89.1,9.19],[90.5,9.34],[91.9,9.04],[93.2,8.81],[94.7,9.22],[96.0,8.95],[97.5,9.19],[98.8,9.26],[100.2,8.96],
  [85.9,9.31],[87.2,8.86],[88.5,9.08],[89.8,8.8],[91.2,9.22],[92.6,8.97],[93.9,9.33],[95.3,9.08],[96.7,8.83],[98.1,9.12],[99.4,8.82],[86.3,9.2],[87.7,9.12],[89.4,9.27],[90.7,9.01],[92.0,8.88],[93.4,9.18],[94.9,9.01],[96.2,9.3],[97.7,8.94],[99.0,9.37],[88.0,8.74],[91.4,8.78],[94.1,8.77],[97.3,8.76],[100.0,9.27],[87.0,9.36],[89.9,9.38],[93.0,9.42],[95.9,9.37],[98.4,9.41],
  [86.7,8.94],[88.9,9.14],[91.1,8.96],[93.3,9.05],[95.6,9.14],[90.3,8.88],[94.5,8.92],[87.4,9.02],[92.4,9.16],[96.9,9.02],
  [80.5,9.1],[81.3,8.9],[82.0,9.25],[82.8,8.75],[83.5,9.05],[84.2,8.6],[81.8,8.6],[83.0,9.4],[84.0,9.2],[82.5,8.5],
  [86.0,9.38],[88.0,9.45],[89.5,9.35],[91.0,9.42],[92.6,9.5],[94.1,9.4],[95.7,9.45],[97.0,9.38],[98.6,9.48],[99.5,9.35],[100.3,9.25],[100.6,9.1],[99.8,8.95],[100.1,9.4],[89.0,9.58],[96.0,9.6],[98.2,9.62],
  [85.5,8.65],[86.4,8.5],[87.4,8.7],[88.3,8.55],[89.2,8.4],[90.1,8.65],[91.0,8.5],[92.0,8.72],[93.0,8.55],[94.5,8.68],[95.8,8.6],[97.5,8.46],[98.9,8.7],[86.8,8.25],[87.5,8.29],[89.2,8.27],[92.0,8.24],[85.8,8.35],[88.4,8.38],[90.5,8.3],[84.6,8.4],[96.5,8.75],[99.6,8.8],[100.4,8.72],
];

const acOn: number[][] = [
  [0.7,9.28],[3.3,9.6],[3.1,9.44],[6.0,9.87],[5.8,9.57],[6.0,9.41],[6.0,9.28],[4.9,9.07],[10.4,9.54],[10.4,9.06],[10.3,8.87],[10.0,8.73],[14.6,9.74],[15.6,9.38],[18.3,9.38],[23.8,9.64],[18.2,8.96],[23.2,8.96],[12.2,8.54],[15.4,8.45],[16.8,8.56],[17.0,8.44],[13.7,8.26],[20.5,8.64],[23.7,8.6],[25.7,8.68],[27.8,8.66],[18.9,8.3],[20.2,8.34],[24.0,8.31],[25.7,8.31],[20.2,8.11],[20.5,8.04],[23.7,8.0],[24.4,7.96],[25.1,8.07],[26.4,7.96],[27.5,8.18],[27.8,8.11],[28.8,8.18],[30.9,8.13],[30.0,8.37],[30.5,8.44],[31.9,8.69],[30.9,9.33],[33.1,9.22],[32.9,9.16],[37.4,9.21],[35.2,8.93],[40.5,8.8],[42.2,8.8],[41.5,8.51],[40.8,8.34],[40.9,8.32],[45.0,8.57],[45.3,8.51],[47.7,8.75],[51.1,8.44],[38.1,8.31],[43.1,8.25],[45.0,8.17],[46.9,8.25],[49.6,8.19],[34.3,8.2],[33.8,8.11],
  [9.3,8.07],[9.3,8.02],[11.0,8.0],[11.5,7.98],[9.5,7.88],[6.7,7.73],[6.5,7.61],[11.1,7.65],[12.9,7.77],[16.8,7.89],[21.3,7.87],[13.7,7.46],[14.8,7.43],[14.6,7.6],[17.2,7.64],[17.8,7.57],[18.2,7.48],[19.2,7.46],[19.9,7.35],[20.5,7.3],[20.7,7.14],[18.4,7.24],[20.6,7.54],[21.6,7.64],[23.5,7.5],[26.3,7.14],
  [26.4,7.7],[27.5,7.81],[28.0,7.84],[30.2,7.89],[31.9,7.84],[32.6,7.81],[33.6,7.62],[31.9,7.62],[27.8,7.38],[28.5,7.21],[28.8,7.22],[31.2,7.34],[31.6,7.27],[33.3,7.26],[32.3,7.43],[31.6,7.03],[33.1,7.05],[36.4,7.57],[36.0,7.38],[36.2,6.97],[37.1,6.92],
  [38.4,7.73],[38.1,7.19],[39.8,7.49],[40.5,7.21],[41.2,7.44],[42.6,7.33],[43.9,7.43],[45.0,7.14],[45.3,7.81],[47.0,7.43],[47.4,7.34],[48.4,7.49],[49.4,7.54],[48.7,7.22],[48.9,7.08],[49.4,7.03],[48.9,6.89],
  [50.6,7.7],[52.0,7.81],[52.8,7.76],[53.2,8.0],[54.2,8.14],[55.7,7.92],[54.9,7.51],[54.2,7.11],[55.3,6.95],[53.2,7.37],[56.3,7.35],[57.0,7.35],[58.3,7.95],[60.1,8.0],[59.6,7.38],[58.2,7.01],
  [62.1,8.25],[63.0,8.06],[64.5,8.06],[68.3,8.19],[66.1,8.92],[68.2,8.76],[63.1,7.46],[65.9,7.49],[68.3,7.3],[69.7,7.44],[70.8,7.03],[68.3,7.81],[68.5,7.8],
  [74.5,8.5],[77.6,8.44],[78.9,9.07],[82.2,8.6],[85.1,9.2],[76.0,8.17],[76.0,8.11],[77.6,8.14],[81.0,8.07],[82.7,8.11],
  [72.1,7.81],[72.8,7.92],[73.4,8.0],[75.5,7.87],[76.2,7.88],[76.9,7.81],[78.2,7.81],[79.3,7.84],[81.7,7.89],[83.4,7.89],[85.1,7.84],[74.8,7.62],[77.6,7.76],[81.0,7.73],[83.0,7.76],
  [72.4,7.43],[74.1,7.46],[75.5,7.43],[75.5,7.3],[79.6,7.49],[80.6,7.46],[81.7,7.43],[83.0,7.38],[84.4,7.41],[85.8,7.46],[86.8,7.49],[87.9,7.49],[88.5,7.43],[87.2,7.35],[85.8,7.22],[87.2,7.23],[82.7,7.14],[81.0,7.27],[89.9,7.21],[89.6,7.28],[83.7,7.3],[86.5,7.38],
  [86.8,8.07],[88.5,8.06],[89.2,8.09],[90.6,8.07],[92.0,8.0],[94.0,8.11],[94.6,8.17],
  [15.8,7.6],[16.2,7.5],[19.5,7.55],[22.6,7.39],[25.2,7.3],[26.2,7.55],[28.7,7.52],[29.7,7.45],[30.4,7.6],[29.8,7.2],[31.0,7.65],[34.8,7.3],[35.7,7.47],[37.5,7.58],[39.2,7.32],[42.9,7.55],[44.3,7.28],[46.4,7.6],[47.3,7.45],[51.8,7.41],[52.6,7.5],[35.1,7.74],[34.4,7.95],[31.0,8.22],[32.3,8.5],[36.9,8.05],[39.6,7.9],[41.8,7.98],[43.6,8.03],[44.9,7.94],[47.2,7.98],[50.3,8.08],[53.4,8.12],[57.8,7.74],[60.8,7.42],[62.8,7.7],[65.2,8.05],[66.8,7.62],[67.6,7.55],[70.2,7.72],[71.6,7.58],[73.6,7.18],[10.8,7.92],[8.2,8.12],[7.4,8.22],[7.9,8.36],[12.3,8.2],[14.2,8.15],[16.0,8.2],[17.8,8.25],[19.4,8.52],[21.8,8.44],[22.5,8.73],[26.7,8.45],[28.5,8.5],[29.6,8.22],[32.8,8.28],[36.2,8.38],[37.6,8.2],[38.9,8.22],[42.4,7.85],
];

const FONT = '"Liberation Sans", Arial, Helvetica, sans-serif';
const PANEL_W = 510;
const PANEL_H = 400;
const STRIP_H = 30;

const panels = [
  { data: windowsDown, left: 100, top: 80, xPos: "top", xLabels: false, yPos: "left", yLabels: false },
  { data: ventOpen, left: 610, top: 80, xPos: "top", xLabels: true, yPos: "right", yLabels: true },
  { data: acOff, left: 100, top: 510, xPos: "bottom", xLabels: true, yPos: "left", yLabels: true },
  { data: acOn, left: 610, top: 510, xPos: "bottom", xLabels: false, yPos: "right", yLabels: false },
];

const tickStyle = { show: true, length: 12, lineStyle: { color: "#000", width: 1 } };
const labelStyle = { color: "#000", fontSize: 20, fontFamily: FONT };

export default function App() {
  const ref = useRef<HTMLDivElement>(null);

  useEffect(() => {
    if (!ref.current) return;
    const chart = echarts.init(ref.current, undefined, { renderer: "svg" });

    const grid = panels.map((p) => ({
      left: p.left,
      top: p.top,
      width: PANEL_W,
      height: PANEL_H,
      show: true,
      borderColor: "#000",
      borderWidth: 1,
      backgroundColor: "transparent",
      containLabel: false,
    }));

    const xAxis = panels.map((p, i) => ({
      type: "value",
      gridIndex: i,
      min: speedRange[0],
      max: speedRange[1],
      position: p.xPos,
      offset: p.xPos === "top" ? STRIP_H : 0,
      axisLine: { show: false },
      axisTick: { ...tickStyle, customValues: speedTicks },
      axisLabel: {
        ...labelStyle,
        show: p.xLabels,
        customValues: speedLabels,
        margin: p.xPos === "top" ? 18 : 24,
      },
      splitLine: { show: false },
    }));

    const yAxis = panels.map((p, i) => ({
      type: "value",
      gridIndex: i,
      min: ufpRange[0],
      max: ufpRange[1],
      position: p.yPos,
      axisLine: { show: false },
      axisTick: { ...tickStyle, customValues: ufpTicks },
      axisLabel: {
        ...labelStyle,
        show: p.yLabels,
        customValues: ufpLabels,
        margin: p.yPos === "left" ? 22 : 20,
      },
      splitLine: { show: false },
    }));

    const series = panels.map((p, i) => ({
      type: "scatter",
      xAxisIndex: i,
      yAxisIndex: i,
      data: p.data,
      symbol: "circle",
      symbolSize: 10,
      silent: true,
      itemStyle: { color: "rgba(0,0,0,0)", borderColor: "#000", borderWidth: 1.5 },
    }));

    const graphics: any[] = [];
    panels.forEach((p, i) => {
      graphics.push({
        type: "rect",
        shape: { x: p.left, y: p.top - STRIP_H, width: PANEL_W, height: STRIP_H },
        style: { fill: "#fff", stroke: "#000", lineWidth: 1 },
      });
      graphics.push({
        type: "text",
        x: p.left + PANEL_W / 2,
        y: p.top - STRIP_H / 2,
        style: {
          text: panelTitles[i],
          fill: "#000",
          font: `25px ${FONT}`,
          align: "center",
          verticalAlign: "middle",
        },
      });
    });

    graphics.push({
      type: "text",
      x: 27,
      y: 495,
      rotation: Math.PI / 2,
      style: {
        text: "Log of In-Vehicle UFP (pt/cc)",
        fill: "#000",
        font: `25px ${FONT}`,
        align: "center",
        verticalAlign: "middle",
      },
    });
    graphics.push({
      type: "text",
      x: 610,
      y: 971,
      style: {
        text: "Probe Vehicle Speed (kph)",
        fill: "#000",
        font: `25px ${FONT}`,
        align: "center",
        verticalAlign: "middle",
      },
    });

    chart.setOption({
      animation: false,
      backgroundColor: "#fff",
      grid,
      xAxis,
      yAxis,
      series,
      graphic: graphics,
    });

    return () => chart.dispose();
  }, []);

  return (
    <div
      ref={ref}
      style={{ position: "fixed", left: 0, top: 0, width: 1172, height: 999 }}
    />
  );
}
